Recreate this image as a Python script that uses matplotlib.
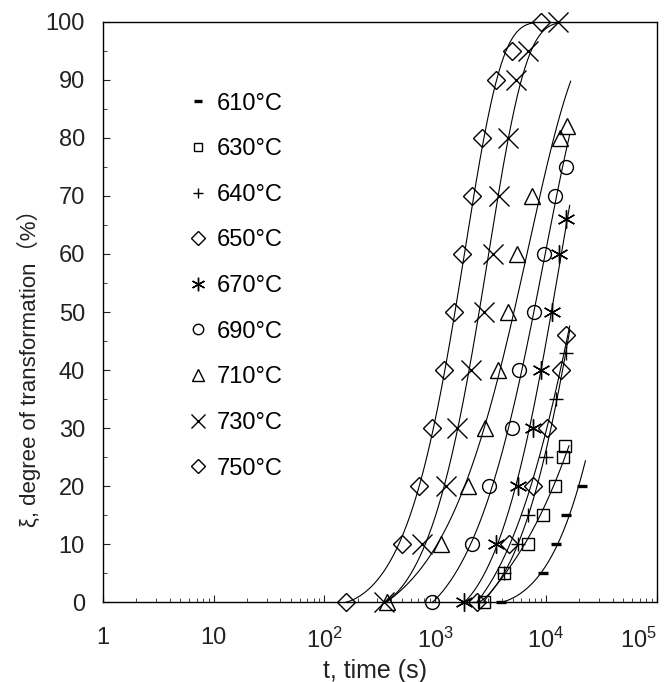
import numpy as np
import matplotlib
matplotlib.use('Agg')
import matplotlib.pyplot as plt

plt.rcParams['font.family'] = ['Liberation Sans', 'Noto Sans CJK SC', 'DejaVu Sans']
plt.rcParams['mathtext.default'] = 'regular'

# transformation data, t in s, degree in %
labels = ['610°C', '630°C', '640°C', '650°C', '670°C', '690°C', '710°C', '730°C', '750°C']

t610 = [3917, 9330, 12310, 15170, 21040]
x610 = [0, 5, 10, 15, 20]
t630 = [2748, 4195, 6830, 9330, 12060, 14350, 14960]
x630 = [0, 5, 10, 15, 20, 25, 27]
t640 = [2477, 4195, 5580, 6830, 10000, 12310, 15170]
x640 = [0, 5, 10, 15, 25, 35, 43]
t650 = [2375, 4656, 7580, 10210, 13680, 15170]
x650 = [0, 10, 20, 30, 40, 46]
t670 = [1811, 3530, 5545, 7580, 9010, 11250, 13190, 15170]
x670 = [0, 10, 20, 30, 40, 50, 60, 66]
t690 = [943, 2172, 3069, 4895, 5730, 7830, 9530, 12060, 15170]
x690 = [0, 10, 20, 30, 40, 50, 60, 70, 75]
t710 = [364, 1138, 1982, 2805, 3656, 4565, 5465, 7417, 13470, 15490]
x710 = [0, 10, 20, 30, 40, 50, 60, 70, 80, 82]
t730 = [344, 766, 1245, 1588, 2095, 2765, 3296, 3780, 4501, 5354, 6920, 12770]
x730 = [0, 10, 20, 30, 40, 50, 60, 70, 80, 90, 95, 100]
t750 = [155, 498, 713, 943, 1202, 1480, 1763, 2172, 2636, 3530, 4920, 9010]
x750 = [0, 10, 20, 30, 40, 50, 60, 70, 80, 90, 95, 100]

series = [(t610, x610), (t630, x630), (t640, x640), (t650, x650), (t670, x670),
          (t690, x690), (t710, x710), (t730, x730), (t750, x750)]

# marker, size, edge width
styles = [('_', 7, 2.4), ('s', 8, 1.0), ('+', 10, 1.0), ('D', 9, 1.0), ((6, 2, 0), 13, 1.0),
          ('o', 10, 1.0), ('^', 11, 1.0), ('x', 14, 1.0), ('D', 9, 1.0)]

fig = plt.figure(figsize=(6.64, 6.82), dpi=100)
ax = fig.add_axes([0.155, 0.117, 0.834, 0.851])

for (t, x), (m, ms, mew), lab in zip(series, styles, labels):
    t = np.array(t, float)
    x = np.array(x, float)
    t0 = t[0]
    # shifted Avrami fit: x = 100*(1-exp(-k (t-t0)^n))
    sel = (x > 0) & (x < 100)
    yy = np.log(-np.log(1 - x[sel] / 100.0))
    n, lnk = np.polyfit(np.log(t[sel] - t0), yy, 1)
    tt = np.logspace(np.log10(t0), np.log10(t[-1] * 1.08), 300)
    xx = 100 * (1 - np.exp(-np.exp(lnk) * (tt - t0) ** n))
    ax.plot(tt, xx, color='black', lw=0.8)
    ax.plot(t, x, linestyle='none', marker=m, ms=ms, mew=mew, mec='black',
            mfc='none', color='black', label=lab, clip_on=False)

ax.set_xscale('log')
ax.set_xlim(1, 1e5)
ax.set_ylim(0, 100)
ax.set_xticks([1, 10, 100, 1000, 1e4, 1e5])
ax.set_xticklabels(['1', '10', '$10^2$', '$10^3$', '$10^4$', '$10^5$'])
ax.get_xticklabels()[-1].set_ha('right')
ax.set_yticks(np.arange(0, 101, 10))
ax.set_yticks(np.arange(5, 100, 10), minor=True)
ax.tick_params(which='both', direction='in', labelsize=17, colors='#222222')
ax.tick_params(axis='y', which='major', length=5, pad=13)
ax.tick_params(axis='y', which='minor', length=3)
ax.tick_params(axis='x', which='major', length=5, pad=18)
ax.tick_params(axis='x', which='minor', length=3)
for s in ax.spines.values():
    s.set_linewidth(1.0)

ax.set_xlabel('t, time (s)', fontsize=18, color='#222222')
ax.xaxis.set_label_coords(0.491, -0.098)
ax.set_ylabel('ξ, degree of transformation（%）', fontsize=16, color='#222222')
ax.yaxis.set_label_coords(-0.112, 0.412)

ax.legend(loc='upper left', bbox_to_anchor=(0.15, 0.878), frameon=False, fontsize=17,
          markerscale=0.75, handlelength=1.0, handletextpad=0.3, labelspacing=1.0,
          borderaxespad=0, borderpad=0)

fig.savefig('out.png', dpi=100)
